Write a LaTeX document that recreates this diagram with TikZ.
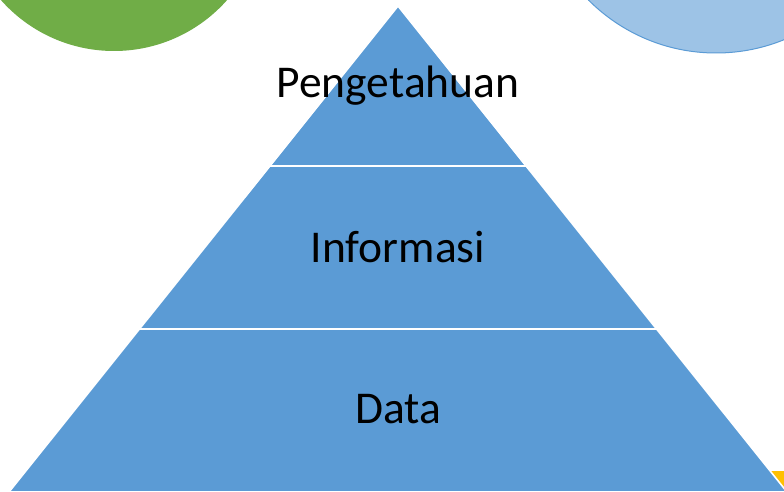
\documentclass[tikz,border=0pt]{standalone}
\usepackage{fontspec}
\setmainfont{Carlito}
\definecolor{pyr}{HTML}{5B9BD5}
\definecolor{lblue}{HTML}{9DC3E6}
\definecolor{grn}{HTML}{70AD47}
\definecolor{ylw}{HTML}{FFC000}
\tikzset{
  lbl/.style={anchor=base, font=\fontsize{45.5}{50}\selectfont, text=black, inner sep=0pt},
  divider/.style={draw=white, line width=2.2pt}
}
\begin{document}
\begin{tikzpicture}[x=1pt,y=-1pt]
\useasboundingbox (0,0) rectangle (784,492);
\clip (0,0) rectangle (784,492);
% background circles
\fill[grn] (114,-100) circle[radius=151];
\filldraw[fill=lblue, draw=pyr, line width=1pt] (716,-127) circle[radius=180];
% yellow shape behind bottom-right corner
\fill[ylw] (700,471) rectangle (800,520);
% pyramid
\coordinate (apex) at (398,6);
\coordinate (bl) at (9,492);
\coordinate (br) at (787,492);
\filldraw[fill=pyr, draw=white, line width=1.6pt, line join=miter] (apex) -- (br) -- (bl) -- cycle;
% dividers
\coordinate (d1l) at (268,166);
\coordinate (d1r) at (528,166);
\coordinate (d2l) at (138,329);
\coordinate (d2r) at (658,329);
\draw[divider] (d1l) -- (d1r);
\draw[divider] (d2l) -- (d2r);
% labels
\node[lbl] (top) at (398,98) {Pengetahuan};
\node[lbl] (mid) at (398,262) {Informasi};
\node[lbl] (bot) at (398,423) {Data};
\end{tikzpicture}
\end{document}
